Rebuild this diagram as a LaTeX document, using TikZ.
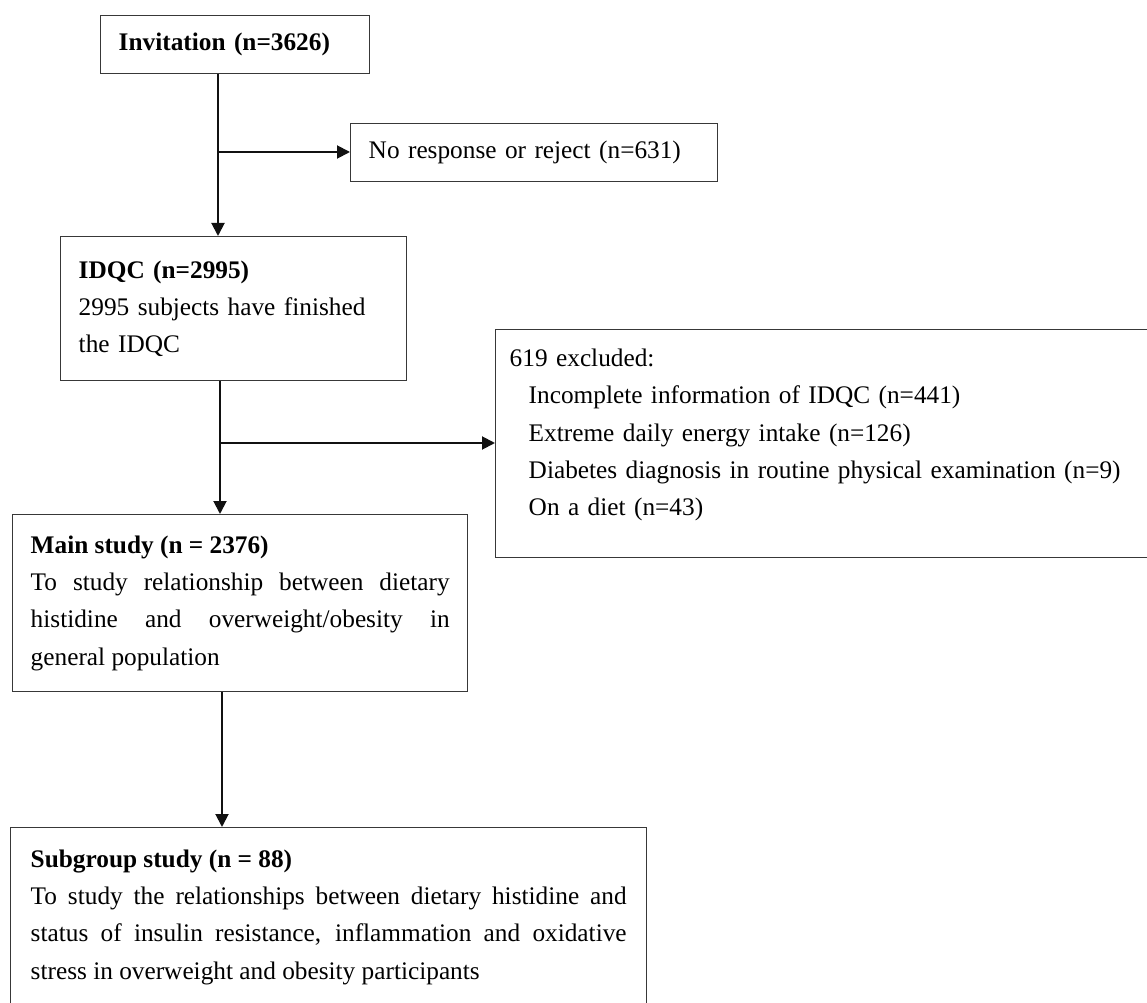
\documentclass[tikz,border=0pt]{standalone}
\usepackage{fontspec}
\setmainfont{Liberation Serif}
\usepackage{xcolor}
\usepackage{tikz}
\usetikzlibrary{arrows.meta}
\definecolor{frame}{HTML}{383838}
\definecolor{ink}{HTML}{111111}
\tikzset{
  flowbox/.style={draw=frame, line width=0.85pt, anchor=north west, inner xsep=0.36cm, inner ysep=0pt, align=left, font=\fontsize{14.4pt}{21.25pt}\selectfont},
  flowjust/.style={flowbox, align=justify},
  flowline/.style={draw=ink, line width=1.1pt, -{Triangle[length=0.26cm,width=0.26cm]}},
}

\begin{document}
\begin{tikzpicture}[x=0.02cm, y=-0.02cm]
\useasboundingbox (0,0) rectangle (1147,1003);
\clip (0,0) rectangle (1147,1003);

\node[flowbox, text width=4.66cm, minimum height=1.16cm] (invite) at (100,15) {\textbf{Invitation (n=3626)}};
\node[flowbox, text width=6.62cm, minimum height=1.16cm] (noresp) at (350,123) {No response or reject (n=631)};
\node[flowbox, text width=6.2cm, minimum height=2.88cm] (idqc) at (60,236) {\textbf{IDQC (n=2995)}\\
  2995 subjects have finished\\
  the IDQC};
\node[flowbox, text width=13.4cm, minimum height=4.56cm, inner xsep=0.28cm] (excl) at (495,329) {619 excluded:\\
  \hspace*{0.38cm}Incomplete information of IDQC (n=441)\\
  \hspace*{0.38cm}Extreme daily energy intake (n=126)\\
  \hspace*{0.38cm}Diabetes diagnosis in routine physical examination (n=9)\\
  \hspace*{0.38cm}On a diet (n=43)\\[-0.29cm]\mbox{}};
\node[flowjust, text width=8.38cm, minimum height=3.54cm] (main) at (12,514) {\textbf{Main study (n = 2376)}\\
  To study relationship between dietary\linebreak
  histidine and overweight/obesity in\linebreak
  general population};
\node[flowjust, text width=11.92cm, minimum height=3.58cm, inner xsep=0.4cm] (sub) at (10,827) {\textbf{Subgroup study (n = 88)}\\
  To study the relationships between dietary histidine and\linebreak
  status of insulin resistance, inflammation and oxidative\linebreak
  stress in overweight and obesity participants};

% branch points
\coordinate (j1) at (218,152);
\coordinate (j2) at (220,443);
\coordinate (j3) at (222,700);

\draw[flowline] (invite.south -| j1) -- (idqc.north -| j1);
\draw[flowline] (j1) -- (j1 -| noresp.west);
\draw[flowline] (idqc.south -| j2) -- (main.north -| j2);
\draw[flowline] (j2) -- (j2 -| excl.west);
\draw[flowline] (main.south -| j3) -- (sub.north -| j3);
\end{tikzpicture}
\end{document}
